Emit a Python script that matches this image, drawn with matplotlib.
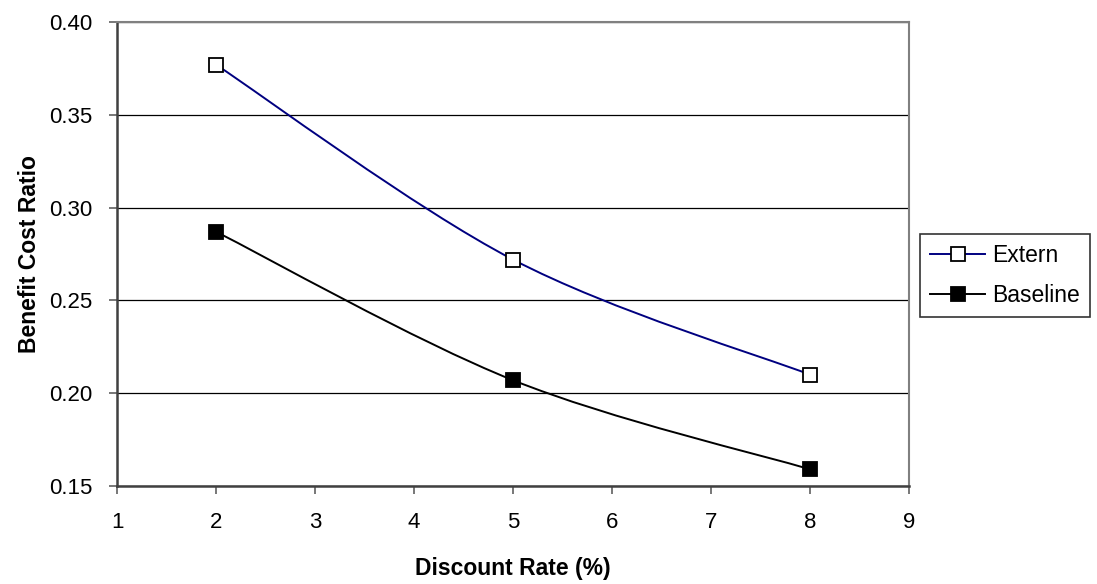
import matplotlib
matplotlib.use("Agg")
import matplotlib.pyplot as plt
from matplotlib.path import Path
from matplotlib.patches import PathPatch
from matplotlib.lines import Line2D
import numpy as np

plt.rcParams['font.family'] = ['Liberation Sans', 'DejaVu Sans']

rates = [2, 5, 8]
extern = [0.377, 0.272, 0.210]
baseline = [0.287, 0.207, 0.159]
series_names = ["Extern", "Baseline"]
x_ticks = [1, 2, 3, 4, 5, 6, 7, 8, 9]
y_ticks = [0.15, 0.20, 0.25, 0.30, 0.35, 0.40]


def smooth_path(xs, ys):
    pts = np.column_stack([xs, ys]).astype(float)
    n = len(pts)
    verts = [pts[0]]
    codes = [Path.MOVETO]
    for i in range(n - 1):
        p0 = pts[i - 1] if i > 0 else pts[i]
        p1 = pts[i]
        p2 = pts[i + 1]
        p3 = pts[i + 2] if i + 2 < n else pts[i + 1]
        c1 = p1 + (p2 - p0) / 6.0
        c2 = p2 - (p3 - p1) / 6.0
        verts += [c1, c2, p2]
        codes += [Path.CURVE4] * 3
    return Path(verts, codes)


fig = plt.figure(figsize=(10.97, 5.84), dpi=100)
ax = fig.add_axes([0.1067, 0.1678, 0.7219, 0.7945])

colors = ["#000080", "#000000"]
faces = ["white", "black"]
for vals, col, fc in zip([extern, baseline], colors, faces):
    ax.add_patch(PathPatch(smooth_path(rates, vals), facecolor="none",
                           edgecolor=col, lw=1.4, zorder=3))
    ax.plot(rates, vals, ls="none", marker="s", ms=10, mfc=fc,
            mec="black", mew=1.3, zorder=4)

ax.set_xlim(1, 9)
ax.set_ylim(0.15, 0.40)
ax.set_xticks(x_ticks)
ax.set_yticks(y_ticks)
ax.set_yticklabels([f"{v:.2f}" for v in y_ticks])
ax.yaxis.grid(True, color="black", lw=0.9)
ax.set_axisbelow(True)
for s in ["top", "right"]:
    ax.spines[s].set_color("#808080")
    ax.spines[s].set_linewidth(1.5)
for s in ["left", "bottom"]:
    ax.spines[s].set_color("#404040")
    ax.spines[s].set_linewidth(1.8)
ax.tick_params(axis="both", direction="out", length=6, width=1.2,
               colors="#606060", labelcolor="black", labelsize=16)
ax.tick_params(axis="x", pad=13)
ax.tick_params(axis="y", pad=12)

ax.set_xlabel("Discount Rate (%)", fontsize=16.5, fontweight="bold", labelpad=17)
ax.set_ylabel("Benefit Cost Ratio", fontsize=16.5, fontweight="bold", labelpad=5.5)

handles = [
    Line2D([], [], color=colors[0], lw=1.4, marker="s", ms=10, mfc="white", mec="black", mew=1.3),
    Line2D([], [], color=colors[1], lw=1.4, marker="s", ms=10, mfc="black", mec="black", mew=1.3),
]
leg = fig.legend(handles, series_names, loc="upper left",
                 bbox_to_anchor=(920 / 1097, 1 - 234 / 584), frameon=True, fancybox=False,
                 edgecolor="black", fontsize=16.5, handlelength=2.4,
                 handletextpad=0.3, borderpad=0.45, labelspacing=0.72,
                 borderaxespad=0)
leg.get_frame().set_linewidth(1.2)

fig.savefig("out.png", dpi=100)
